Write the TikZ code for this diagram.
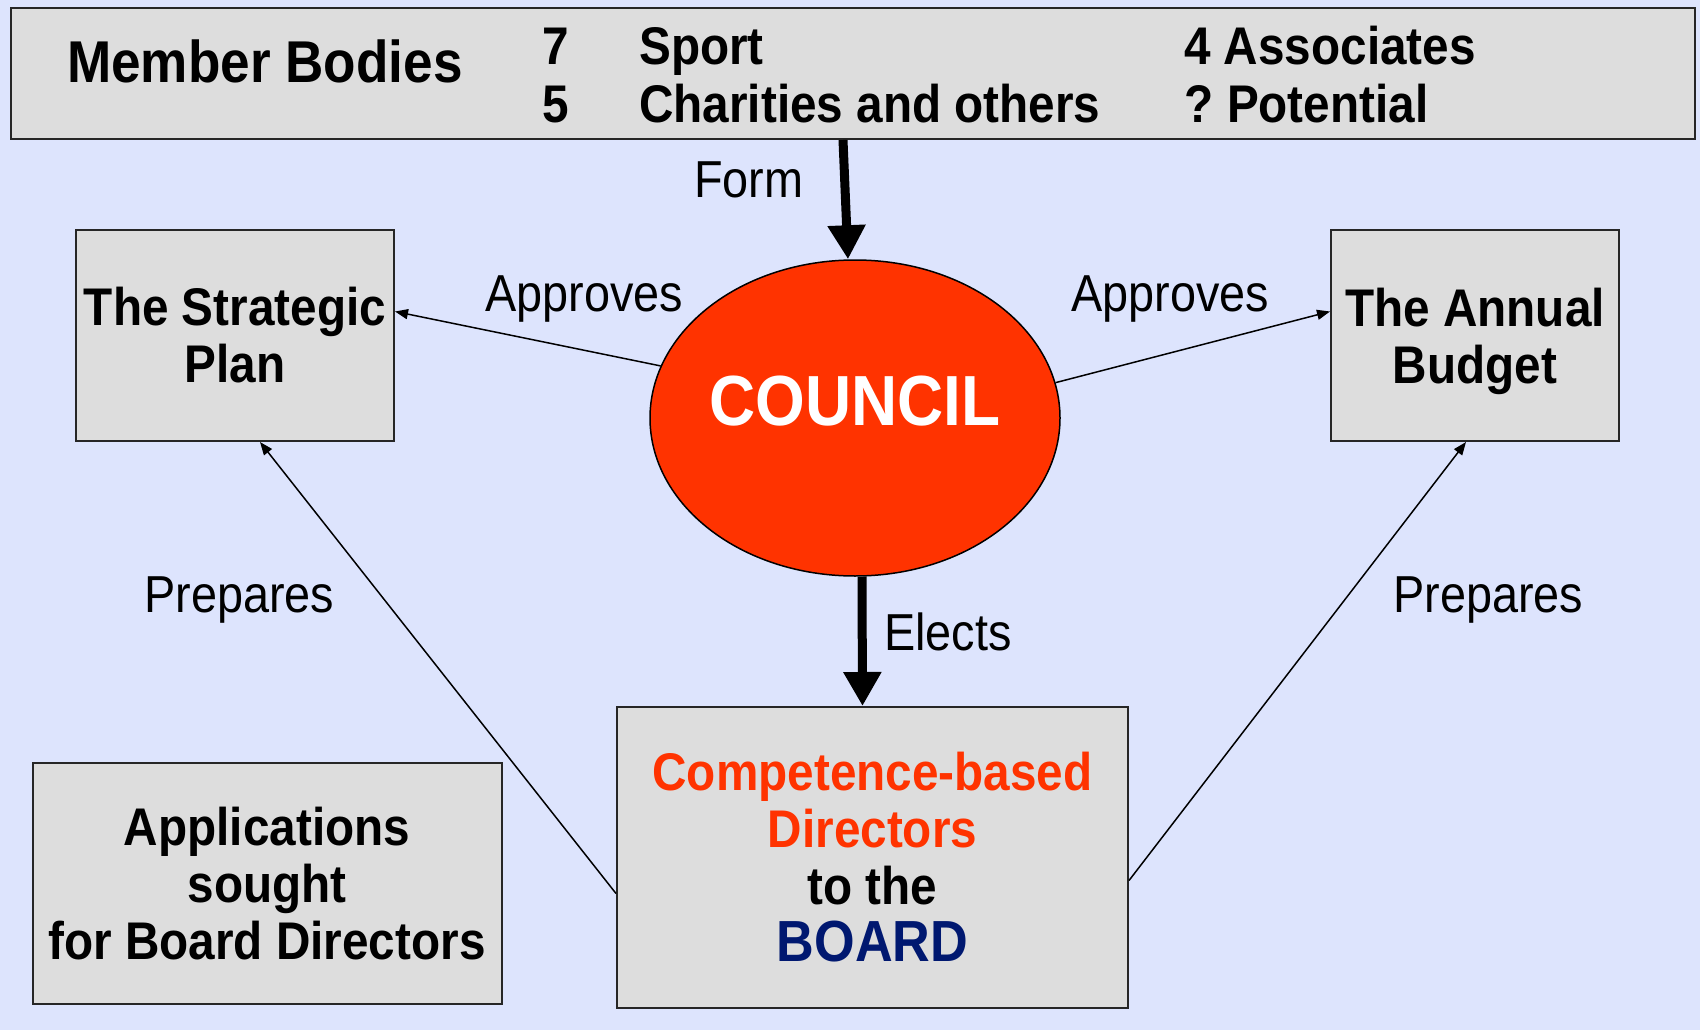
\documentclass[tikz,border=0pt]{standalone}
\usepackage{fontspec}
\setmainfont{Liberation Sans}[FakeStretch=0.9]
\usetikzlibrary{arrows.meta,shapes.geometric,calc}
\definecolor{bg}{RGB}{221,228,253}
\definecolor{boxgray}{RGB}{221,221,221}
\definecolor{councilred}{RGB}{255,51,0}
\definecolor{boardblue}{RGB}{0,24,112}
\begin{document}
\begin{tikzpicture}[x=1pt,y=-1pt,
  box/.style={draw=black!85, line width=2pt, fill=boxgray, inner sep=0pt, align=center,
    font=\fontsize{53}{57}\selectfont\bfseries},
  lbl/.style={anchor=base west, inner sep=0pt, font=\fontsize{52}{56}\selectfont},
  toptxt/.style={anchor=base west, inner sep=0pt, font=\fontsize{53}{57}\selectfont\bfseries},
  thinarrow/.style={line width=1.5pt, -{Triangle[length=13pt,width=10pt]}},
  bigarrow/.style={line width=9pt, -{Triangle[length=34pt,width=36pt]}},
]
\useasboundingbox[fill=bg] (0,0) rectangle (1700,1030);

% top box
\node[box, minimum width=1684pt, minimum height=131pt] (top) at (853,73.5) {};
\node[toptxt, font=\fontsize{59}{62}\selectfont\bfseries] (mb) at (67,83) {Member Bodies};
\node[toptxt] (n7) at (542,65) {7};
\node[toptxt] (sport) at (639,65) {Sport};
\node[toptxt] (n5) at (542,122.5) {5};
\node[toptxt] (char) at (639,122.5) {Charities and others};
\node[toptxt] (assoc) at (1184,65) {4 Associates};
\node[toptxt] (pot) at (1184,122.5) {?\hspace{-4pt} Potential};

% council
\node[ellipse, draw=black, line width=1.5pt, fill=councilred, minimum width=410pt,
  minimum height=316pt, inner sep=0pt] (council) at (855,418) {};
\node[inner sep=0pt, text=white, font=\fontsize{71}{74}\selectfont\bfseries] (ctext) at (855,401) {COUNCIL};

% boxes
\node[box, minimum width=318pt, minimum height=211pt] (strat) at (235,335.5) {The Strategic\\Plan};
\node[box, minimum width=288pt, minimum height=211pt] (annual) at (1475,335.5)
  {The Annual\\\raisebox{0pt}[\height][0pt]{Budget}};
\node[box, minimum width=511pt, minimum height=301pt] (board) at (872.5,857.5)
  {\textcolor{councilred}{Competence-based}\\\textcolor{councilred}{Directors}\\to the\\{\fontsize{58}{60}\selectfont\textcolor{boardblue}{BOARD}}};
\node[box, minimum width=469pt, minimum height=241pt] (apps) at (267,883.5)
  {Applications\\sought\\for Board Directors};

% labels
\node[lbl] (form) at (694,197) {Form};
\node[lbl] (appl) at (485,311) {Approves};
\node[lbl] (appr) at (1071,311) {Approves};
\node[lbl] (prepl) at (144,612) {Prepares};
\node[lbl] (prepr) at (1393,612) {Prepares};
\node[lbl] (elects) at (884,650) {Elects};

% connectors
\coordinate (formstart) at ($(top.south)+(-10,0)$);
\draw[bigarrow] (formstart) -- ($(council.north)+(-7,0)$);
\draw[bigarrow] ($(council.south)+(7,0)$) -- ($(board.north)+(-10,0)$);
\draw[thinarrow] (council.165) -- ($(strat.east)+(0,-24)$);
\draw[thinarrow] (council.10) -- ($(annual.west)+(0,-24)$);
\draw[thinarrow] ($(board.west)+(0,36)$) -- ($(strat.south)+(25,0)$);
\draw[thinarrow] ($(board.east)+(0,23)$) -- ($(annual.south)+(-9,0)$);
\end{tikzpicture}
\end{document}
